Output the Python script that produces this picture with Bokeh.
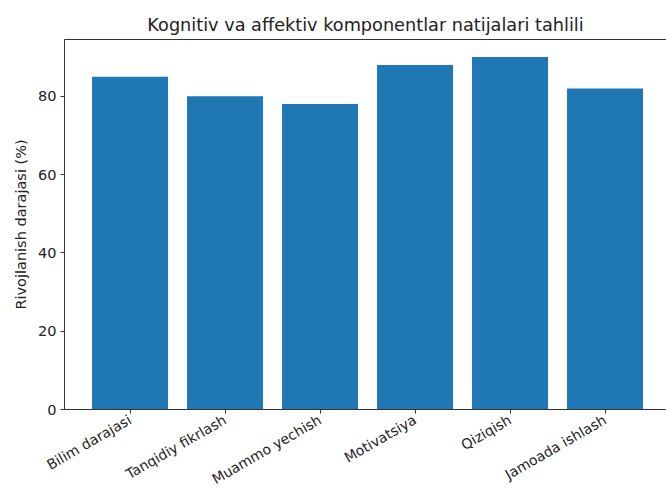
from bokeh.plotting import figure
from bokeh.models import Range1d, FixedTicker, LinearAxis, ColumnDataSource
from bokeh.embed import file_html
from bokeh.resources import INLINE
import math

categories = ["Bilim darajasi", "Tanqidiy fikrlash", "Muammo yechish",
              "Motivatsiya", "Qiziqish", "Jamoada ishlash"]
values = [85, 80, 78, 88, 90, 82]
y_ticks = [0, 20, 40, 60, 80]

xs = list(range(len(categories)))
src = ColumnDataSource(dict(x=xs, top=values))

FONT = "DejaVu Sans"
TXT = "#222222"
AX = "#333333"

p = figure(width=666, height=497, output_backend="svg", toolbar_location=None,
           x_range=Range1d(-0.69, 5.647), y_range=Range1d(0, 94.5),
           title="Kognitiv va affektiv komponentlar natijalari tahlili",
           min_border_left=64, min_border_right=0, min_border_top=39,
           min_border_bottom=87)
p.outline_line_color = None
p.grid.visible = False
p.background_fill_color = "white"

p.vbar(x="x", top="top", width=0.8, bottom=0, source=src,
       fill_color="#1f77b4", line_color=None)

p.title.align = "center"
p.title.text_font = FONT
p.title.text_font_size = "17.7px"
p.title.text_font_style = "normal"
p.title.text_color = TXT
p.title.standoff = 9

xa = p.xaxis[0]
xa.ticker = FixedTicker(ticks=xs)
xa.major_label_overrides = {i: c for i, c in enumerate(categories)}
xa.major_label_orientation = math.pi / 6
xa.major_label_standoff = 5
xa.minor_tick_line_color = None
xa.major_tick_in = 0
xa.major_tick_out = 4
xa.major_label_text_font = FONT
xa.major_label_text_font_size = "14px"
xa.major_label_text_color = TXT
xa.axis_line_color = AX
xa.major_tick_line_color = AX

ya = p.yaxis[0]
ya.ticker = FixedTicker(ticks=y_ticks)
ya.minor_tick_line_color = None
ya.major_tick_in = 0
ya.major_tick_out = 4
ya.major_label_standoff = 4
ya.major_label_text_font = FONT
ya.major_label_text_font_size = "14.5px"
ya.major_label_text_color = TXT
ya.axis_line_color = AX
ya.major_tick_line_color = AX
ya.axis_label = "Rivojlanish darajasi (%)"
ya.axis_label_standoff = 6
ya.axis_label_text_font = FONT
ya.axis_label_text_font_size = "14.5px"
ya.axis_label_text_font_style = "normal"
ya.axis_label_text_color = TXT

top_axis = LinearAxis(ticker=FixedTicker(ticks=[]), major_label_text_font_size="0px",
                      major_tick_line_color=None, minor_tick_line_color=None,
                      axis_line_color=AX)
p.add_layout(top_axis, "above")

open("out.html", "w").write(file_html(p, INLINE))
